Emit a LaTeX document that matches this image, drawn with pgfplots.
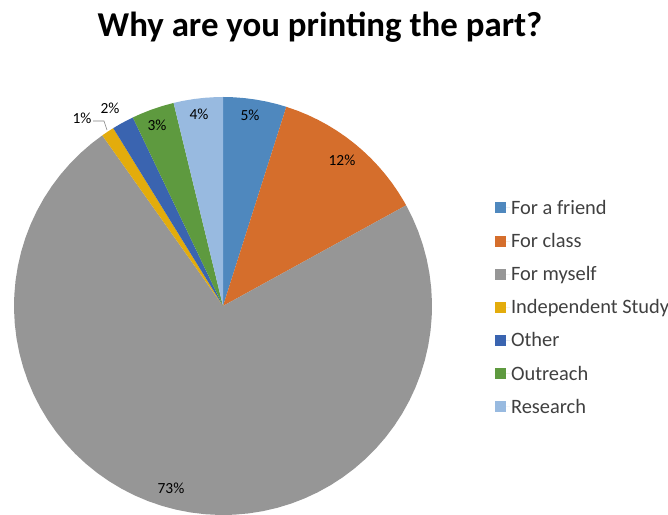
\documentclass[border=0pt]{standalone}
\usepackage{pgfplots}
\pgfplotsset{compat=1.18}
\usepackage{fontspec}
\setmainfont{Carlito}
\definecolor{cFriend}{HTML}{4F88BE}
\definecolor{cClass}{HTML}{D56E2C}
\definecolor{cSelf}{HTML}{969696}
\definecolor{cIndep}{HTML}{E3AC0C}
\definecolor{cOther}{HTML}{3A64B0}
\definecolor{cOutreach}{HTML}{5E9A3F}
\definecolor{cResearch}{HTML}{98BAE0}
\definecolor{txt}{HTML}{404040}
\begin{document}
\begin{tikzpicture}
\begin{axis}[
  width=668bp, height=515bp, scale only axis,
  xmin=-223, xmax=445, ymin=-209, ymax=306,
  hide axis, clip=false,
  legend cell align=left,
  legend style={draw=none, fill=none, at={(axis cs:272,107)}, anchor=north west,
    font=\fontsize{20.5}{24}\selectfont, text=txt, row sep=15.5bp, inner sep=0pt, outer sep=0pt,
    nodes={inner sep=1bp}},
  legend image code/.code={\fill[#1] (0bp,-5.5bp) rectangle (11bp,5.5bp); \path (0bp,0bp) -- (15bp,0bp);},
]
\addplot[data cs=polar, fill=cFriend, draw=none] coordinates {(0,0) (90,209) (87,209) (84,209) (81,209) (78,209) (75,209) (72.36,209) (0,0)};
\addlegendentry{For a friend}
\addplot[data cs=polar, fill=cClass, draw=none] coordinates {(0,0) (72.36,209) (69,209) (66,209) (63,209) (60,209) (57,209) (54,209) (51,209) (48,209) (45,209) (42,209) (39,209) (36,209) (33,209) (30,209) (28.8,209) (0,0)};
\addlegendentry{For class}
\addplot[data cs=polar, fill=cSelf, draw=none] coordinates {(0,0) (28.8,209) (25,209) (21,209) (17,209) (13,209) (9,209) (5,209) (1,209) (-3,209) (-7,209) (-11,209) (-15,209) (-19,209) (-23,209) (-27,209) (-31,209) (-35,209) (-39,209) (-43,209) (-47,209) (-51,209) (-55,209) (-59,209) (-63,209) (-67,209) (-71,209) (-75,209) (-79,209) (-83,209) (-87,209) (-91,209) (-95,209) (-99,209) (-103,209) (-107,209) (-111,209) (-115,209) (-119,209) (-123,209) (-127,209) (-131,209) (-135,209) (-139,209) (-143,209) (-147,209) (-151,209) (-155,209) (-159,209) (-163,209) (-167,209) (-171,209) (-175,209) (-179,209) (-183,209) (-187,209) (-191,209) (-195,209) (-199,209) (-203,209) (-207,209) (-211,209) (-215,209) (-219,209) (-223,209) (-227,209) (-231,209) (-234.72,209) (0,0)};
\addlegendentry{For myself}
\addplot[data cs=polar, fill=cIndep, draw=none] coordinates {(0,0) (-234.72,209) (-236.5,209) (-238.32,209) (0,0)};
\addlegendentry{Independent Study}
\addplot[data cs=polar, fill=cOther, draw=none] coordinates {(0,0) (-238.32,209) (-241,209) (-244.44,209) (0,0)};
\addlegendentry{Other}
\addplot[data cs=polar, fill=cOutreach, draw=none] coordinates {(0,0) (-244.44,209) (-247,209) (-250,209) (-253,209) (-256.32,209) (0,0)};
\addlegendentry{Outreach}
\addplot[data cs=polar, fill=cResearch, draw=none] coordinates {(0,0) (-256.32,209) (-259,209) (-262,209) (-265,209) (-268,209) (-270,209) (0,0)};
\addlegendentry{Research}
% leader line for 1%
\addplot[forget plot, draw=gray, line width=0.6pt] coordinates {(-130,185) (-119,185) (-116,176)};
% percentage labels
\addplot[forget plot, only marks, mark=none, nodes near coords, point meta=explicit symbolic,
  every node near coord/.append style={anchor=center, font=\fontsize{15.5}{18}\selectfont, text=black}]
  coordinates {(27,191) [5\%] (119,146) [12\%] (-52,-182) [73\%] (-24,192) [4\%] (-66,181) [3\%] (-113,198) [2\%] (-141,188) [1\%]};
\node[font=\fontsize{35}{40}\selectfont\bfseries, text=black, anchor=base] at (axis cs:97,269) {Why are you printing the part?};
\coordinate (SW) at (rel axis cs:0,0);
\coordinate (NE) at (rel axis cs:1,1);
\end{axis}
\pgfresetboundingbox
\path (SW) rectangle (NE);
\end{tikzpicture}
\end{document}
